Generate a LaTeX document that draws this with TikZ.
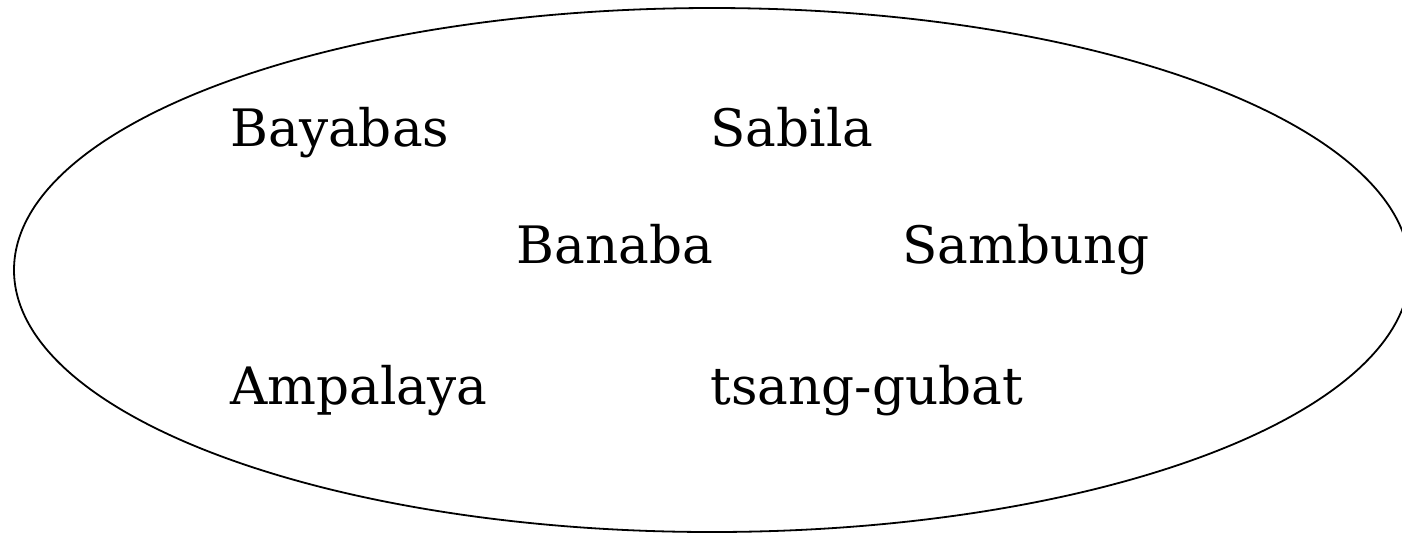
\documentclass[tikz,border=0pt]{standalone}
\usepackage{fontspec}
\setmainfont{DejaVu Serif}
\usetikzlibrary{positioning}

\begin{document}
\begin{tikzpicture}[x=0.5pt,y=-0.5pt]
\tikzstyle{every node}+=[inner sep=0pt]
\tikzstyle{herb}=[anchor=base west,font=\fontsize{25.8}{30}\selectfont]
\useasboundingbox (0,0) rectangle (1402,532);
\draw [black,line width=0.9pt] (712,270) ellipse (698 and 262);
\node [herb] (bayabas) at (230,146) {Bayabas};
\node [herb] (sabila) at (710,146) {Sabila};
\node [herb] (banaba) at (516,263) {Banaba};
\node [herb] (sambung) at (902,263) {Sambung};
\node [herb] (ampalaya) at (230,404) {Ampalaya};
\node [herb] (tsang) at (710,404) {tsang-gubat};
\end{tikzpicture}
\end{document}
